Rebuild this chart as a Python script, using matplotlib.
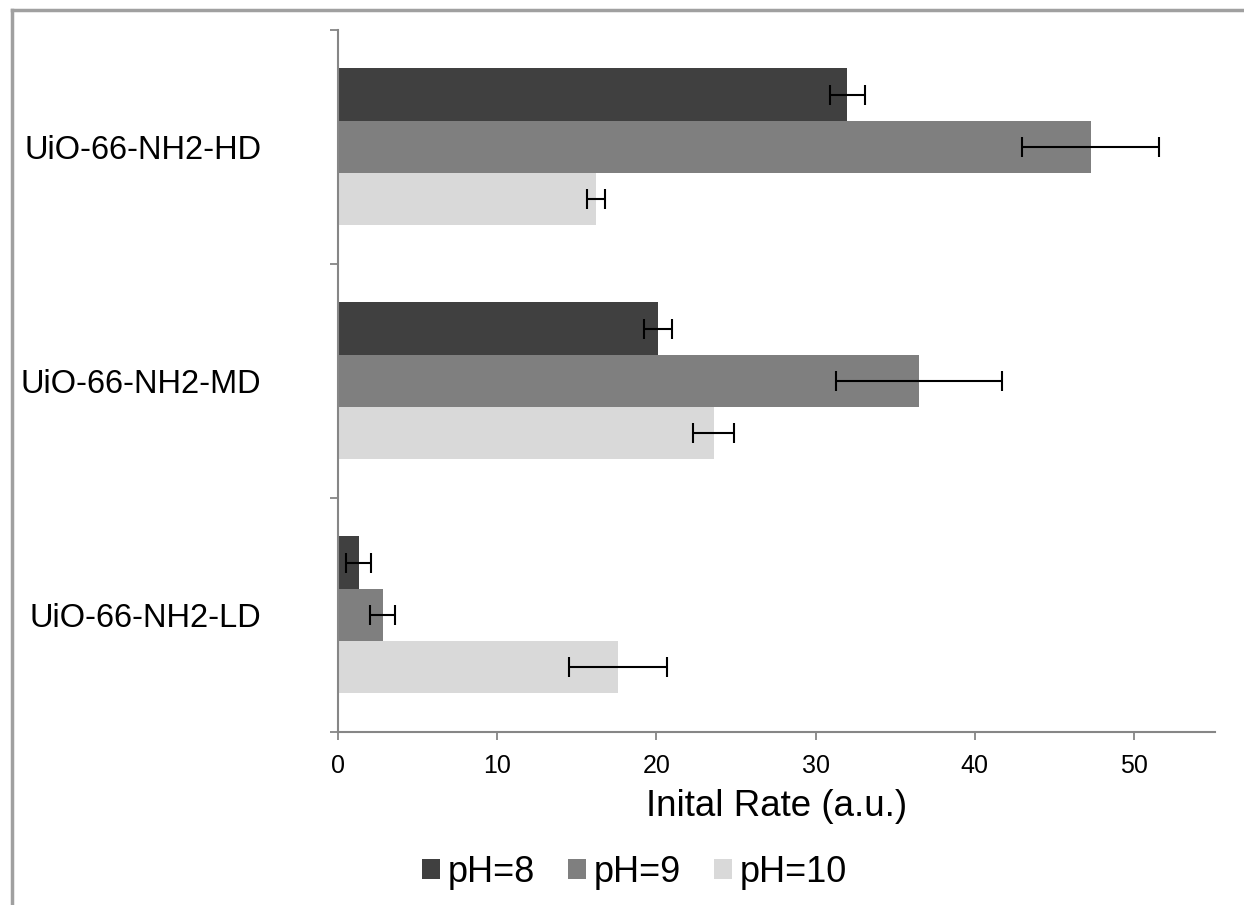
import numpy as np
import matplotlib.pyplot as plt
from matplotlib.lines import Line2D

plt.rcParams['font.family'] = ['Liberation Sans', 'DejaVu Sans']

samples = ['UiO-66-NH2-HD', 'UiO-66-NH2-MD', 'UiO-66-NH2-LD']
ph_labels = ['pH=8', 'pH=9', 'pH=10']
colors = ['#404040', '#7f7f7f', '#d9d9d9']

# initial rates, one list per pH (HD, MD, LD)
rate_ph8 = [32.0, 20.1, 1.3]
rate_ph9 = [47.3, 36.5, 2.8]
rate_ph10 = [16.2, 23.6, 17.6]
err_ph8 = [1.1, 0.9, 0.8]
err_ph9 = [4.3, 5.2, 0.8]
err_ph10 = [0.55, 1.3, 3.1]

rates = [rate_ph8, rate_ph9, rate_ph10]
errs = [err_ph8, err_ph9, err_ph10]

fig = plt.figure(figsize=(12.44, 9.05), dpi=100)
ax = fig.add_axes([0.2717, 0.1912, 0.7050, 0.7757])

y = np.arange(len(samples))[::-1]  # HD on top
h = 0.2236
for i in range(3):
    ax.barh(y + (1 - i) * h, rates[i], height=h, color=colors[i],
            xerr=errs[i], error_kw=dict(ecolor='black', elinewidth=1.5,
                                        capsize=7, capthick=1.5),
            label=ph_labels[i])

ax.set_xlim(0, 55.1)
ax.set_ylim(-0.5, 2.5)
ax.set_xticks(np.arange(0, 51, 10))
ax.set_yticks(y)
ax.set_yticklabels(samples, fontsize=23.5)
ax.set_yticks([-0.5, 0.5, 1.5, 2.5], minor=True)
ax.tick_params(axis='y', which='major', length=0, pad=55)
ax.tick_params(axis='y', which='minor', length=6, width=1.3, color='#868686')
ax.tick_params(axis='x', length=6, width=1.3, color='#868686', labelsize=18, pad=10)

for s in ['top', 'right']:
    ax.spines[s].set_visible(False)
for s in ['left', 'bottom']:
    ax.spines[s].set_color('#868686')
    ax.spines[s].set_linewidth(1.5)

ax.set_xlabel('Inital Rate (a.u.)', fontsize=26.5, labelpad=8)

fig.legend(loc='center', bbox_to_anchor=(0.51, 0.036), ncol=3, frameon=False,
           fontsize=26, handlelength=0.5, handleheight=0.5, handletextpad=0.22,
           columnspacing=0.9)

# grey frame along the left and top edges
fig.add_artist(Line2D([0.0095, 0.0095], [0, 0.989], color='#a0a0a0', lw=2.5))
fig.add_artist(Line2D([0.0095, 1], [0.989, 0.989], color='#a0a0a0', lw=2.5))

fig.savefig('out.png', dpi=100)
